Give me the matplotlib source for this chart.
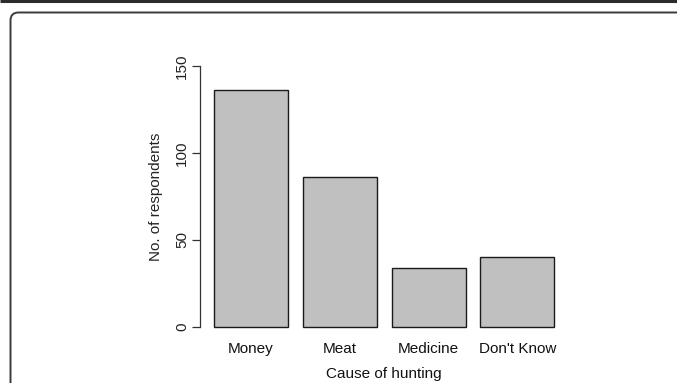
import matplotlib.pyplot as plt
from matplotlib.patches import FancyBboxPatch
import numpy as np

# data
causes = ["Money", "Meat", "Medicine", "Don't Know"]
respondents = [136, 86, 34, 40]
yticks = [0, 50, 100, 150]

W, H = 677, 383
FS = 11
plt.rcParams['font.family'] = ['Liberation Sans', 'DejaVu Sans']

fig = plt.figure(figsize=(W / 100, H / 100), dpi=100)

# page frame (pixel coordinates)
bg = fig.add_axes([0, 0, 1, 1], zorder=0)
bg.set_xlim(0, W)
bg.set_ylim(H, 0)
bg.axis('off')
bg.plot([0, W], [0.8, 0.8], color='#2b2b2b', lw=2.2, solid_capstyle='butt')
bg.add_patch(FancyBboxPatch((10.5, 12.5), 720, 420,
                            boxstyle="round,pad=0,rounding_size=8",
                            fc='none', ec='#3a3a3a', lw=1.4))

# plot region: y axis at x=200 px, 0..150 spans 327..66 px
left, right, top, bottom = 200, 568, 66, 327
ax = fig.add_axes([left / W, (H - bottom) / H, (right - left) / W, (bottom - top) / H], zorder=1)
ax.patch.set_alpha(0)

x = 0.7 + 1.2 * np.arange(len(causes))
ax.bar(x, respondents, width=1.0, color='#c0c0c0', edgecolor='#1a1a1a', linewidth=1.0, clip_on=False)

x0 = 0.2 - 14 / 74
ax.set_xlim(x0, x0 + (right - left) / 74)
ax.set_ylim(0, 150)

for s in ['top', 'right', 'bottom']:
    ax.spines[s].set_visible(False)
ax.spines['left'].set_bounds(0, 150)
ax.spines['left'].set_color('#333333')
ax.spines['left'].set_linewidth(0.9)

ax.set_yticks(yticks)
ax.set_yticklabels([str(t) for t in yticks], rotation=90, va='center', fontsize=FS, color='#222222')
ax.tick_params(axis='y', length=5.8, width=0.9, color='#333333', pad=2)

ax.set_xticks(x)
ax.set_xticklabels(causes, fontsize=FS, color='#111111')
ax.tick_params(axis='x', length=0, pad=11)

ax.set_ylabel("No. of respondents", fontsize=FS, color='#222222', labelpad=9)
ax.set_xlabel("Cause of hunting", fontsize=FS, color='#111111', labelpad=8)

fig.savefig("out.png", dpi=100)
